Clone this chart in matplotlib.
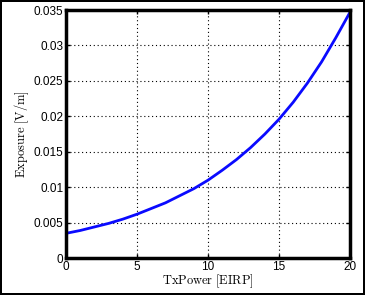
import matplotlib
matplotlib.use("Agg")
import matplotlib.pyplot as plt

tx_power = [0, 1, 2, 3, 4, 5, 6, 7, 8, 9, 10, 11, 12, 13, 14, 15, 16, 17, 18, 19, 20]
exposure = [0.0035, 0.0039, 0.0044, 0.0049, 0.0055, 0.0062, 0.0070, 0.0078, 0.0088, 0.0098,
            0.0110, 0.0124, 0.0139, 0.0156, 0.0175, 0.0196, 0.0220, 0.0247, 0.0277, 0.0311, 0.0347]
xticks = [0, 5, 10, 15, 20]
yticks = [0, 0.005, 0.01, 0.015, 0.02, 0.025, 0.03, 0.035]
yticklabels = ["0", "0.005", "0.01", "0.015", "0.02", "0.025", "0.03", "0.035"]

plt.rcParams['mathtext.fontset'] = 'cm'
plt.rcParams['font.family'] = ['Liberation Sans', 'DejaVu Sans']

fig = plt.figure(figsize=(3.65, 2.95), dpi=100)
fig.patch.set_facecolor('white')
fig.patch.set_edgecolor('black')
fig.patch.set_linewidth(1.5)
ax = fig.add_axes([0.181, 0.125, 0.778, 0.841])

ax.plot(tx_power, exposure, color='#0a0aff', linewidth=2)
ax.set_xlim(0, 20)
ax.set_ylim(0, 0.035)
ax.set_xticks(xticks)
ax.set_xticklabels([str(t) for t in xticks])
ax.set_yticks(yticks)
ax.set_yticklabels(yticklabels)
ax.tick_params(direction='in', labelsize=8.5, length=3, width=1, top=True, right=True, pad=2)
ax.grid(True, linestyle=(0, (1, 2.5)), color='black', linewidth=0.8)
for s in ax.spines.values():
    s.set_linewidth(2.5)
ax.set_xlabel(r'$\mathrm{TxPower\ [EIRP]}$', fontsize=9, labelpad=0)
ax.set_ylabel(r'$\mathrm{Exposure\ [V/m]}$', fontsize=9, labelpad=2)

fig.savefig('out.png', dpi=100, edgecolor=fig.get_edgecolor())
